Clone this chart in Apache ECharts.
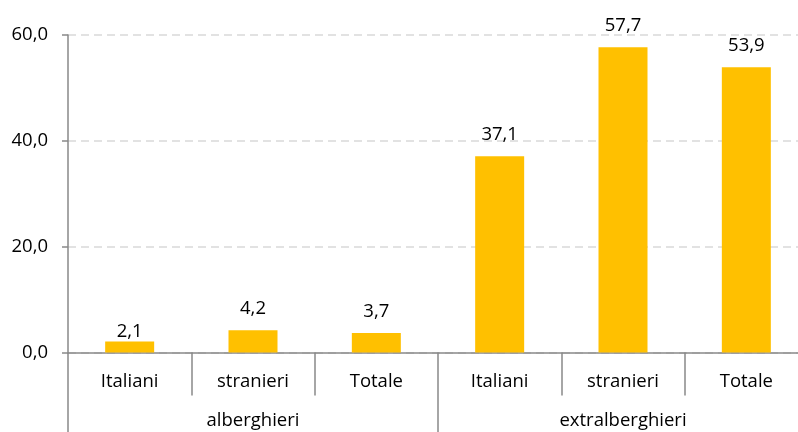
<!DOCTYPE html>
<html><head><meta charset="utf-8">
<script src="https://cdn.jsdelivr.net/npm/echarts@6/dist/echarts.min.js"></script>
<style>html,body{margin:0;padding:0;background:#fff}#c{width:798px;height:432px}</style>
</head><body><div id="c"></div>
<script>
const categories = ['Italiani','stranieri','Totale','Italiani','stranieri','Totale'];
const groups = ['alberghieri','extralberghieri'];
const values = [2.1, 4.2, 3.7, 37.1, 57.7, 53.9];
const yTicks = [0, 20, 40, 60];

const fmt = v => Number(v).toFixed(1).replace('.', ',');
const font = '"Open Sans", sans-serif';
const axisColor = '#898989';

// first label sits closer to its bar in the reference
const barData = values.map((v, i) => i === 0 ? {value: v, label: {distance: 0}} : v);

const chart = echarts.init(document.getElementById('c'), null, {renderer:'canvas'});
chart.setOption({
  animation: false,
  grid: {left: 68, top: 35, width: 740, height: 317.5, outerBoundsMode: 'none', containLabel: false},
  xAxis: [
    {
      type: 'category', data: categories, position: 'bottom',
      axisLine: {lineStyle: {color: axisColor, width: 1.5}},
      axisTick: {show: true, interval: 0, length: 43, lineStyle: {color: axisColor, width: 1.5}},
      axisLabel: {interval: 0, margin: 20, color: '#000', fontSize: 18.5, fontFamily: font}
    },
    {
      type: 'category', data: groups, position: 'bottom', gridIndex: 0,
      axisLine: {show: false},
      axisTick: {show: true, interval: 0, length: 80, lineStyle: {color: axisColor, width: 1.5}},
      axisLabel: {interval: 0, margin: 59, color: '#000', fontSize: 18.5, fontFamily: font}
    }
  ],
  yAxis: {
    type: 'value', min: yTicks[0], max: yTicks[yTicks.length-1], interval: 20,
    axisLine: {show: true, lineStyle: {color: axisColor, width: 1.5}},
    axisTick: {show: true, length: 6, lineStyle: {color: axisColor, width: 1.5}},
    axisLabel: {formatter: fmt, margin: 20, color: '#000', fontSize: 18.5, fontFamily: font},
    splitLine: {show: true, lineStyle: {color: '#D9D9D9', width: 1.5, type: [8, 5]}}
  },
  series: [{
    type: 'bar', xAxisIndex: 0, data: barData, barWidth: 49,
    itemStyle: {color: '#FFC000'},
    label: {show: true, position: 'top', distance: 12, formatter: p => fmt(p.value),
      color: '#000', fontSize: 18.5, fontFamily: font}
  }]
});
</script></body></html>
